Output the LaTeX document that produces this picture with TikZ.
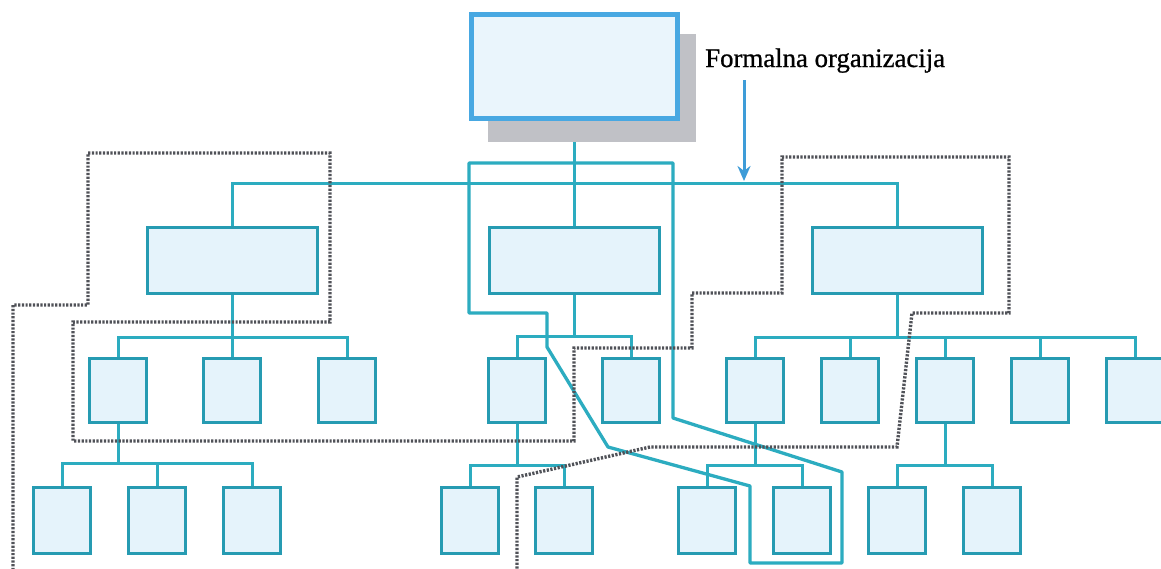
\documentclass[tikz,border=0pt]{standalone}
\usepackage{fontspec}
\setmainfont{Liberation Serif}
\newfontface\lblfont[FakeBold=0.8]{Liberation Serif}
\usetikzlibrary{arrows.meta}
\pgfdeclarelayer{bg}
\pgfsetlayers{bg,main}
\definecolor{boxline}{RGB}{38,155,178}
\definecolor{treeline}{RGB}{44,172,192}
\definecolor{boxfill}{RGB}{229,243,251}
\definecolor{topblue}{RGB}{72,168,226}
\definecolor{topfill}{RGB}{234,245,252}
\definecolor{shadowgray}{RGB}{192,193,198}
\definecolor{arrowblue}{RGB}{62,156,216}
\definecolor{dotgray}{RGB}{80,82,88}
\tikzset{
  wide/.style={draw=boxline, fill=boxfill, line width=3pt, minimum width=170pt, minimum height=66pt, inner sep=0pt},
  small/.style={draw=boxline, fill=boxfill, line width=3pt, minimum width=57pt, minimum height=64pt, inner sep=0pt},
  tree/.style={draw=treeline, line width=3pt},
  informal/.style={draw=treeline, line width=3.3pt, line join=round},
  dotline/.style={draw=dotgray, line width=3.4pt, dash pattern=on 2.2pt off 1.5pt},
}
\begin{document}
\begin{tikzpicture}[x=1pt,y=-1pt]
\begin{pgfonlayer}{bg}
\fill[white] (0,0) rectangle (1161,568);
\end{pgfonlayer}
\useasboundingbox (0,0) rectangle (1161,568);
% shadow
\node[fill=shadowgray, minimum width=208pt, minimum height=108pt, inner sep=0pt] (shadow) at (592,88) {};
% bus coordinates
\coordinate (bus0) at (574,183);
\coordinate (busA) at (0,337);
\coordinate (busB) at (0,336);
\coordinate (busC) at (0,337);
\coordinate (busD) at (0,463);
\coordinate (busE) at (0,465);
% level 1
\node[wide] (a1) at (232,260) {};
\node[wide] (a2) at (574,260) {};
\node[wide] (a3) at (897,260) {};
% level 2
\node[small] (b1) at (118,390) {};
\node[small] (b2) at (232,390) {};
\node[small] (b3) at (347,390) {};
\node[small] (b4) at (517,390) {};
\node[small] (b5) at (631,390) {};
\node[small] (b6) at (755,390) {};
\node[small] (b7) at (850,390) {};
\node[small] (b8) at (945,390) {};
\node[small] (b9) at (1040,390) {};
\node[small] (b10) at (1135,390) {};
% level 3
\node[small, minimum height=66pt] (c1) at (62,520) {};
\node[small, minimum height=66pt] (c2) at (157,520) {};
\node[small, minimum height=66pt] (c3) at (252,520) {};
\node[small, minimum height=66pt] (c4) at (470,520) {};
\node[small, minimum height=66pt] (c5) at (564,520) {};
\node[small, minimum height=66pt] (c6) at (707,520) {};
\node[small, minimum height=66pt] (c7) at (802,520) {};
\node[small, minimum height=66pt] (c8) at (897,520) {};
\node[small, minimum height=66pt] (c9) at (992,520) {};
\node[draw=topblue, fill=topfill, line width=5pt, minimum width=206pt, minimum height=104pt, inner sep=0pt] (top) at (574,66) {};
% tree connectors (behind boxes)
\begin{pgfonlayer}{bg}
\draw[tree] (top.south) -- (a2.north);
\draw[tree] (a1.north) -- (a1.north |- bus0) -- (a3.north |- bus0) -- (a3.north);
\draw[tree] (a1.south) -- (a1.south |- busA);
\draw[tree] (b1.north) -- (b1.north |- busA) -- (b3.north |- busA) -- (b3.north);
\draw[tree] (b2.north) -- (b2.north |- busA);
\draw[tree] (a2.south) -- (a2.south |- busB);
\draw[tree] (b4.north) -- (b4.north |- busB) -- (b5.north |- busB) -- (b5.north);
\draw[tree] (a3.south) -- (a3.south |- busC);
\draw[tree] (b6.north) -- (b6.north |- busC) -- (b10.north |- busC) -- (b10.north);
\draw[tree] (b7.north) -- (b7.north |- busC);
\draw[tree] (b8.north) -- (b8.north |- busC);
\draw[tree] (b9.north) -- (b9.north |- busC);
\draw[tree] (b1.south) -- (b1.south |- busD);
\draw[tree] (c1.north) -- (c1.north |- busD) -- (c3.north |- busD) -- (c3.north);
\draw[tree] (c2.north) -- (c2.north |- busD);
\draw[tree] (b4.south) -- (b4.south |- busE);
\draw[tree] (c4.north) -- (c4.north |- busE) -- (c5.north |- busE) -- (c5.north);
\draw[tree] (b6.south) -- (b6.south |- busE);
\draw[tree] (c6.north) -- (c6.north |- busE) -- (c7.north |- busE) -- (c7.north);
\draw[tree] (b8.south) -- (b8.south |- busE);
\draw[tree] (c8.north) -- (c8.north |- busE) -- (c9.north |- busE) -- (c9.north);
\end{pgfonlayer}
% informal loop (solid)
\coordinate (i1) at (469,163);
\coordinate (i2) at (673,163);
\coordinate (i3) at (673,418);
\coordinate (i4) at (842,472);
\coordinate (i5) at (842,563);
\coordinate (i6) at (750,563);
\coordinate (i7) at (750,486);
\coordinate (i8) at (608,447);
\coordinate (i9) at (547,347);
\coordinate (i10) at (547,313);
\coordinate (i11) at (469,313);
\draw[informal] (i1) -- (i2) -- (i3) -- (i4) -- (i5) -- (i6) -- (i7) -- (i8) -- (i9) -- (i10) -- (i11) -- cycle;
% dotted informal path
\coordinate (d0) at (13,570);
\coordinate (d1) at (13,305);
\coordinate (d2) at (88,305);
\coordinate (d3) at (88,153);
\coordinate (d4) at (330,153);
\coordinate (d5) at (330,322);
\coordinate (d6) at (73,322);
\coordinate (d7) at (73,441);
\coordinate (d8) at (574,441);
\coordinate (d9) at (574,348);
\coordinate (d10) at (692,348);
\coordinate (d11) at (692,293);
\coordinate (d12) at (782,293);
\coordinate (d13) at (782,157);
\coordinate (d14) at (1009,157);
\coordinate (d15) at (1009,313);
\coordinate (d16) at (912,313);
\coordinate (d17) at (897,447);
\coordinate (d18) at (650,447);
\coordinate (d19) at (517,477);
\coordinate (d20) at (517,570);
\draw[dotline] (d0) -- (d1) -- (d2) -- (d3) -- (d4) -- (d5) -- (d6) -- (d7) -- (d8) -- (d9) -- (d10) -- (d11) -- (d12) -- (d13) -- (d14) -- (d15) -- (d16) -- (d17) -- (d18) -- (d19) -- (d20);
% label and arrow
\node[anchor=base west, inner sep=0pt, font=\lblfont\fontsize{26.8}{32}\selectfont] (lbl) at (705,67) {Formalna organizacija};
\coordinate (arrtop) at (744,80);
\coordinate (arrend) at (744,181);
\draw[arrowblue, line width=3pt, -{Stealth[length=15pt,width=13pt]}] (arrtop) -- (arrend);
\end{tikzpicture}
\end{document}
